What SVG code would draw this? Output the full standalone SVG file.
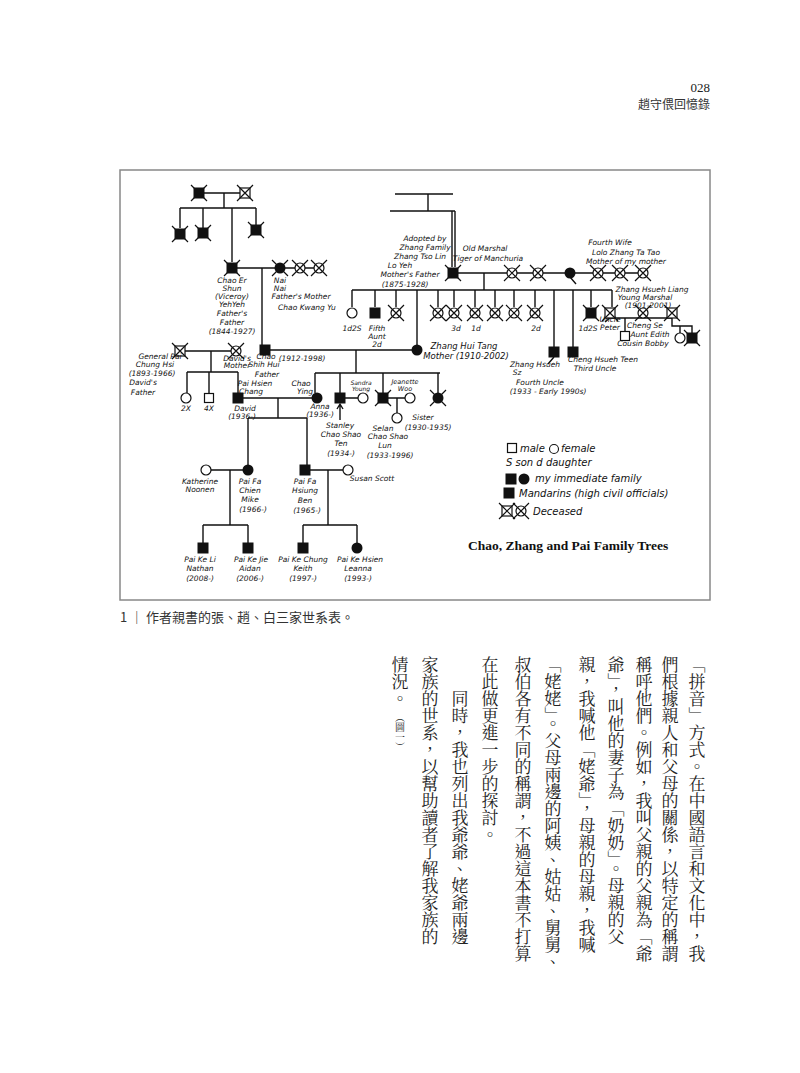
<svg xmlns="http://www.w3.org/2000/svg" xmlns:xlink="http://www.w3.org/1999/xlink" width="800" height="1073" viewBox="0 0 800 1073">
<style>
.ln{stroke:#111;stroke-width:1.4;fill:none}
.h{font-family:"DejaVu Sans","Liberation Sans",sans-serif;font-style:italic;font-size:7.5px;fill:#111;text-anchor:middle}
.hl{font-family:"DejaVu Sans","Liberation Sans",sans-serif;font-style:italic;font-size:10px;fill:#111}
.cjk{font-family:"Noto Sans CJK TC","Noto Sans CJK SC",sans-serif;fill:#333}
.vt{font-family:"Noto Serif CJK TC","Noto Sans CJK TC",serif;font-size:17px;fill:#222;writing-mode:vertical-rl}
</style>
<defs>
<rect id="fs" x="-5.5" y="-5.5" width="11" height="11" fill="#111"/>
<circle id="fc" r="5.5" fill="#111"/>
<rect id="os" x="-4.5" y="-4.5" width="9" height="9" fill="#fff" stroke="#111" stroke-width="1.2"/>
<circle id="oc" r="5" fill="#fff" stroke="#111" stroke-width="1.2"/>
<g id="x"><path d="M-8-8L8 8M-8 8L8-8" stroke="#111" stroke-width="1.2"/></g>
<g id="xf"><use href="#fs"/><use href="#x"/></g>
<g id="xo"><rect x="-5" y="-5" width="10" height="10" fill="#fff" stroke="#111" stroke-width="1.2"/><use href="#x"/></g>
<g id="xc"><use href="#oc"/><use href="#x"/></g>
<g id="xfc"><use href="#fc"/><use href="#x"/></g>
</defs>
<rect width="800" height="1073" fill="#fff"/>
<text x="710" y="92" font-family="Liberation Serif,serif" font-size="13" text-anchor="end" fill="#222">028</text>
<text x="710" y="109" class="cjk" font-size="12" text-anchor="end">趙守偎回憶錄</text>
<rect x="120" y="170" width="590" height="430" fill="none" stroke="#888" stroke-width="1.5"/>

<g id="connectors" class="ln">
<path d="M199 193H245M224 193V208M180 208H256M180 208V228M203 208V228M256 208V225M232 208V262"/>
<path d="M232 268H320M262 268V345"/>
<path d="M395 194H453M428 194V211M390 211H455M452 211V267M455 211V267"/>
<path d="M452 273H645M484 273V290M352 290H612M352 290V307M375 290V307M396 290V307M417 290V345M438 290V307M454 290V307M475 290V307M495 290V307M514 290V307M535 290V307M554 290V347M573 290V347M591 290V307M612 290V307"/>
<path d="M610 318H672M625 318V331M672 318V326H680V333M680 326H692V333"/>
<path d="M265 350H417M356 350V373M315 373H440M315 373V393M340 373V393M383 373V393M438 373V393"/>
<path d="M180 351H236M211 351V372M187 372H238M187 372V393M209 372V393M238 372V393"/>
<path d="M340 398H363M383 398H410M397 398V413M340 405V420M337 409L340 404L343 409"/>
<path d="M237 398H317M278 398V418M248 418H307M248 418V465M307 418V465"/>
<path d="M206 470H248M230 470V525M203 525H248M203 525V543M248 525V543"/>
<path d="M305 470H348M328 470V525M303 525H357M303 525V543M357 525V543"/>
<path d="M548 364L554 357M576 284L570 277M605 322L611 317"/>
</g>

<g id="n-gg"><use href="#xf" x="199" y="193"/><use href="#xo" x="245" y="193"/></g>
<g id="n-top-kids"><use href="#xf" x="180" y="234"/><use href="#xf" x="203" y="233"/><use href="#xf" x="256" y="230"/></g>
<g id="n-chao-er-shun"><use href="#xf" x="232" y="268"/>
<text class="h" x="232" y="283">Chao Er</text><text class="h" x="232" y="291">Shun</text><text class="h" x="232" y="299">(Viceroy)</text><text class="h" x="232" y="307">YehYeh</text><text class="h" x="232" y="316">Father's</text><text class="h" x="232" y="325">Father</text><text class="h" x="232" y="334">(1844-1927)</text></g>
<g id="n-nainai"><use href="#xfc" x="280" y="268"/><use href="#xc" x="300" y="268"/><use href="#xc" x="319" y="268"/>
<text class="h" x="280" y="283">Nai</text><text class="h" x="280" y="291">Nai</text><text class="h" x="301" y="299">Father's Mother</text><text class="h" x="307" y="310">Chao Kwang Yu</text></g>

<g id="n-zhang-tso-lin"><use href="#xf" x="453" y="273"/>
<text class="h" x="425" y="241">Adopted by</text><text class="h" x="425" y="250">Zhang Family</text><text class="h" x="420" y="259">Zhang Tso Lin</text><text class="h" x="400" y="268">Lo Yeh</text><text class="h" x="410" y="277">Mother's Father</text><text class="h" x="405" y="287">(1875-1928)</text>
<text class="h" x="485" y="251">Old Marshal</text><text class="h" x="488" y="261">Tiger of Manchuria</text></g>
<g id="n-wives"><use href="#xc" x="512" y="273"/><use href="#xc" x="538" y="273"/><use href="#fc" x="570" y="273"/><use href="#xc" x="598" y="273"/><use href="#xc" x="620" y="273"/><use href="#xc" x="643" y="273"/>
<text class="h" x="610" y="245">Fourth Wife</text><text class="h" x="626" y="255">Lolo Zhang Ta Tao</text><text class="h" x="626" y="264">Mother of my mother</text></g>
<g id="n-zhang-kids"><use href="#oc" x="352" y="313"/><use href="#fs" x="375" y="313"/><use href="#xc" x="396" y="313"/>
<use href="#xc" x="438" y="313"/><use href="#xc" x="454" y="313"/><use href="#xc" x="475" y="313"/><use href="#xc" x="495" y="313"/><use href="#xc" x="514" y="313"/><use href="#xc" x="535" y="313"/><use href="#xf" x="591" y="313"/>
<text class="h" x="352" y="331">1d2S</text><text class="h" x="377" y="331">Fifth</text><text class="h" x="377" y="339">Aunt</text><text class="h" x="377" y="347">2d</text>
<text class="h" x="456" y="331">3d</text><text class="h" x="476" y="331">1d</text><text class="h" x="536" y="331">2d</text><text class="h" x="588" y="331">1d2S</text></g>
<g id="n-zhang-hsueh-liang"><use href="#xo" x="610" y="313"/><use href="#xc" x="643" y="313"/><use href="#xo" x="672" y="313"/><use href="#os" x="625" y="336"/><use href="#oc" x="680" y="338"/><use href="#xf" x="692" y="338"/>
<text class="h" x="652" y="292">Zhang Hsueh Liang</text><text class="h" x="645" y="300">Young Marshal</text><text class="h" x="648" y="308">(1901-2001)</text>
<text class="h" x="610" y="322">Uncle</text><text class="h" x="610" y="330">Peter</text><text class="h" x="645" y="328">Cheng Se</text><text class="h" x="650" y="337">Aunt Edith</text><text class="h" x="643" y="346">Cousin Bobby</text></g>
<g id="n-zhang-hui-tang"><use href="#fc" x="417" y="350"/>
<text class="h" x="464" y="349" style="font-size:8.5px">Zhang Hui Tang</text><text class="h" x="466" y="359" style="font-size:8.5px">Mother (1910-2002)</text></g>
<g id="n-uncles"><use href="#fs" x="554" y="352"/><use href="#fs" x="573" y="352"/>
<text class="h" x="535" y="367">Zhang Hsueh</text><text class="h" x="517" y="375">Sz</text><text class="h" x="540" y="385">Fourth Uncle</text><text class="h" x="548" y="394">(1933 - Early 1990s)</text>
<text class="h" x="603" y="362">Cheng Hsueh Teen</text><text class="h" x="595" y="371">Third Uncle</text></g>

<g id="n-chao-shih-hui"><use href="#fs" x="265" y="350"/>
<text class="h" x="266" y="359">Chao</text><text class="h" x="264" y="367">Shih Hui</text><text class="h" x="267" y="377">Father</text><text class="h" x="302" y="361">(1912-1998)</text></g>
<g id="n-general-pai"><use href="#xo" x="180" y="351"/><use href="#xc" x="236" y="351"/>
<text class="h" x="160" y="359">General Pai</text><text class="h" x="155" y="367">Chung Hsi</text><text class="h" x="152" y="376">(1893-1966)</text><text class="h" x="143" y="385">David's</text><text class="h" x="143" y="395">Father</text>
<text class="h" x="237" y="361">David's</text><text class="h" x="237" y="368">Mother</text></g>
<g id="n-pai-sibs"><use href="#oc" x="186" y="398"/><use href="#os" x="209" y="398"/><text class="h" x="186" y="411">2X</text><text class="h" x="209" y="411">4X</text></g>
<g id="n-david"><use href="#fs" x="238" y="398"/>
<text class="h" x="255" y="386">Pai Hsien</text><text class="h" x="251" y="394">Chang</text><text class="h" x="245" y="411">David</text><text class="h" x="242" y="419">(1936-)</text></g>
<g id="n-anna"><use href="#fc" x="317" y="398"/>
<text class="h" x="301" y="386">Chao</text><text class="h" x="305" y="394">Ying</text><text class="h" x="320" y="409">Anna</text><text class="h" x="320" y="417">(1936-)</text></g>
<g id="n-stanley"><use href="#fs" x="340" y="398"/><use href="#oc" x="363" y="398"/>
<text class="h" x="361" y="385" style="font-size:6px">Sandra</text><text class="h" x="361" y="391" style="font-size:6px">Young</text>
<text class="h" x="340" y="428">Stanley</text><text class="h" x="341" y="437">Chao Shao</text><text class="h" x="341" y="446">Ten</text><text class="h" x="341" y="456">(1934-)</text></g>
<g id="n-selan"><use href="#xf" x="383" y="398"/><use href="#oc" x="410" y="398"/><use href="#oc" x="397" y="418"/>
<text class="h" x="405" y="384" style="font-size:6.5px">Jeanette</text><text class="h" x="405" y="391" style="font-size:6.5px">Woo</text>
<text class="h" x="383" y="431">Selan</text><text class="h" x="388" y="439">Chao Shao</text><text class="h" x="385" y="448">Lun</text><text class="h" x="390" y="458">(1933-1996)</text></g>
<g id="n-sister"><use href="#xfc" x="438" y="398"/><text class="h" x="423" y="420">Sister</text><text class="h" x="428" y="430">(1930-1935)</text></g>

<g id="n-mike"><use href="#oc" x="206" y="470"/><use href="#fc" x="248" y="470"/>
<text class="h" x="200" y="484">Katherine</text><text class="h" x="200" y="492">Noonen</text>
<text class="h" x="250" y="484">Pai Fa</text><text class="h" x="250" y="493">Chien</text><text class="h" x="250" y="502">Mike</text><text class="h" x="253" y="512">(1966-)</text></g>
<g id="n-ben"><use href="#fs" x="305" y="470"/><use href="#oc" x="348" y="470"/>
<text class="h" x="305" y="484">Pai Fa</text><text class="h" x="305" y="493">Hsiung</text><text class="h" x="305" y="503">Ben</text><text class="h" x="307" y="513">(1965-)</text>
<text class="h" x="372" y="481">Susan Scott</text></g>
<g id="n-grandkids"><use href="#fs" x="203" y="548"/><use href="#fs" x="248" y="548"/><use href="#fs" x="303" y="548"/><use href="#fc" x="357" y="548"/>
<text class="h" x="200" y="562">Pai Ke Li</text><text class="h" x="200" y="571">Nathan</text><text class="h" x="200" y="581">(2008-)</text>
<text class="h" x="251" y="562">Pai Ke Jie</text><text class="h" x="250" y="571">Aidan</text><text class="h" x="250" y="581">(2006-)</text>
<text class="h" x="303" y="562">Pai Ke Chung</text><text class="h" x="303" y="571">Keith</text><text class="h" x="303" y="581">(1997-)</text>
<text class="h" x="360" y="562">Pai Ke Hsien</text><text class="h" x="358" y="571">Leanna</text><text class="h" x="358" y="581">(1993-)</text></g>

<g id="legend">
<use href="#os" x="512" y="448"/><text class="hl" x="520" y="452">male</text><circle cx="554" cy="449" r="4.5" fill="none" stroke="#111" stroke-width="1.1"/><text class="hl" x="561" y="452">female</text>
<text class="hl" x="506" y="466">S son   d daughter</text>
<use href="#fs" x="511" y="479"/><use href="#fc" x="524" y="479"/><text class="hl" x="535" y="482">my immediate family</text>
<use href="#fs" x="509" y="493"/><text class="hl" x="519" y="497">Mandarins (high civil officials)</text>
<use href="#xo" x="507" y="511"/><use href="#xc" x="521" y="511"/><text class="hl" x="533" y="515">Deceased</text>
<text x="468" y="550" font-family="Liberation Serif,serif" font-weight="bold" font-size="13.5" fill="#111">Chao, Zhang and Pai Family Trees</text>
</g>

<text x="120" y="622" class="cjk" font-size="13">1 ｜ 作者親書的張、趙、白三家世系表。</text>

<g id="body">
<text class="vt" x="697" y="656">「拼音」方式。在中國語言和文化中，我</text>
<text class="vt" x="670" y="656">們根據親人和父母的關係，以特定的稱謂</text>
<text class="vt" x="644" y="656">稱呼他們。例如，我叫父親的父親為「爺</text>
<text class="vt" x="616" y="656">爺」，叫他的妻子為「奶奶」。母親的父</text>
<text class="vt" x="587" y="656">親，我喊他「姥爺」，母親的母親，我喊</text>
<text class="vt" x="553" y="656">「姥姥」。父母兩邊的阿姨、姑姑、舅舅、</text>
<text class="vt" x="523" y="656">叔伯各有不同的稱謂，不過這本書不打算</text>
<text class="vt" x="490" y="656">在此做更進一步的探討。</text>
<text class="vt" x="460" y="690">同時，我也列出我爺爺、姥爺兩邊</text>
<text class="vt" x="430" y="656">家族的世系，以幫助讀者了解我家族的</text>
<text class="vt" x="400" y="656">情況。</text>
<text class="vt" x="400" y="712" style="font-size:10px">（圖一）</text>
</g>
</svg>
